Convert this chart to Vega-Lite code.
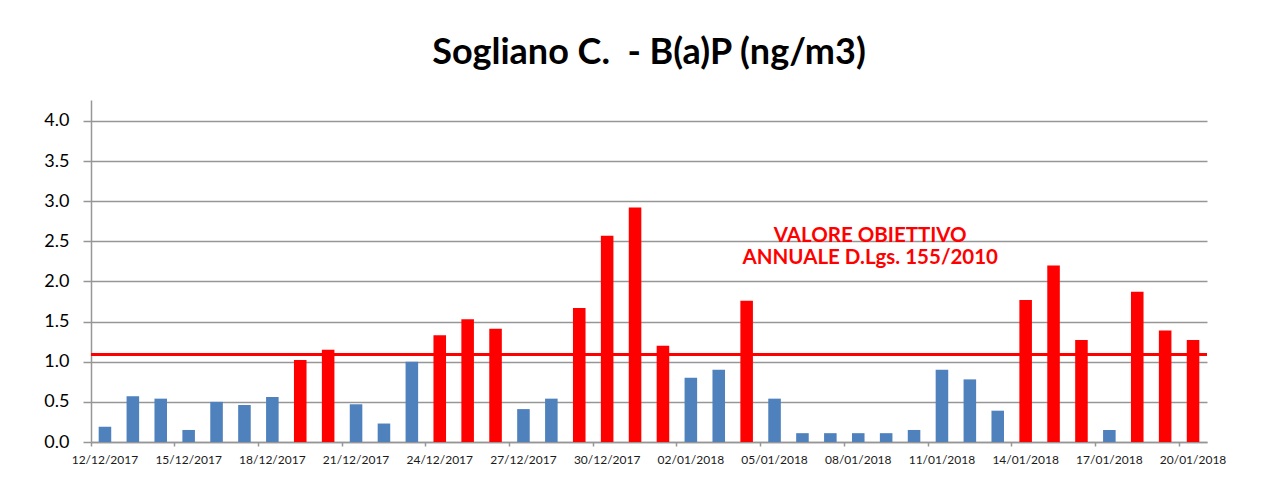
{
  "$schema": "https://vega.github.io/schema/vega-lite/v6.json",
  "width": 1116,
  "height": 342,
  "autosize": "none",
  "padding": {"left": 91, "top": 100, "right": 72, "bottom": 51},
  "background": "white",
  "title": {"text": "Sogliano C.\u00a0 - B(a)P (ng/m3)", "font": "Lato", "fontSize": 36, "fontWeight": "bold", "color": "#000000", "anchor": "middle", "offset": 28},
  "config": {"view": {"stroke": null}},
  "data": {"values": [
    {"date": "12/12/2017", "value": 0.19},
    {"date": "13/12/2017", "value": 0.57},
    {"date": "14/12/2017", "value": 0.54},
    {"date": "15/12/2017", "value": 0.15},
    {"date": "16/12/2017", "value": 0.50},
    {"date": "17/12/2017", "value": 0.46},
    {"date": "18/12/2017", "value": 0.56},
    {"date": "19/12/2017", "value": 1.02},
    {"date": "20/12/2017", "value": 1.15},
    {"date": "21/12/2017", "value": 0.47},
    {"date": "22/12/2017", "value": 0.23},
    {"date": "23/12/2017", "value": 1.00},
    {"date": "24/12/2017", "value": 1.33},
    {"date": "25/12/2017", "value": 1.53},
    {"date": "26/12/2017", "value": 1.41},
    {"date": "27/12/2017", "value": 0.41},
    {"date": "28/12/2017", "value": 0.54},
    {"date": "29/12/2017", "value": 1.67},
    {"date": "30/12/2017", "value": 2.57},
    {"date": "31/12/2017", "value": 2.92},
    {"date": "01/01/2018", "value": 1.20},
    {"date": "02/01/2018", "value": 0.80},
    {"date": "03/01/2018", "value": 0.90},
    {"date": "04/01/2018", "value": 1.76},
    {"date": "05/01/2018", "value": 0.54},
    {"date": "06/01/2018", "value": 0.11},
    {"date": "07/01/2018", "value": 0.11},
    {"date": "08/01/2018", "value": 0.11},
    {"date": "09/01/2018", "value": 0.11},
    {"date": "10/01/2018", "value": 0.15},
    {"date": "11/01/2018", "value": 0.90},
    {"date": "12/01/2018", "value": 0.78},
    {"date": "13/01/2018", "value": 0.39},
    {"date": "14/01/2018", "value": 1.77},
    {"date": "15/01/2018", "value": 2.20},
    {"date": "16/01/2018", "value": 1.27},
    {"date": "17/01/2018", "value": 0.15},
    {"date": "18/01/2018", "value": 1.87},
    {"date": "19/01/2018", "value": 1.39},
    {"date": "20/01/2018", "value": 1.27}
  ]},
  "layer": [
    {
      "mark": {"type": "bar", "width": {"band": 0.45}},
      "encoding": {
        "x": {
          "field": "date", "type": "ordinal", "sort": null,
          "scale": {"paddingInner": 0, "paddingOuter": 0},
          "axis": {
            "title": null,
            "values": ["12/12/2017", "15/12/2017", "18/12/2017", "21/12/2017", "24/12/2017", "27/12/2017", "30/12/2017", "02/01/2018", "05/01/2018", "08/01/2018", "11/01/2018", "14/01/2018", "17/01/2018", "20/01/2018"],
            "bandPosition": 0,
            "labelOffset": 0,
            "labelAngle": 0,
            "labelFont": "Lato",
            "labelFontSize": 12,
            "labelColor": "#1a1a1a",
            "labelPadding": 8,
            "domainColor": "#969696",
            "domainWidth": 1.5,
            "tickColor": "#969696",
            "tickWidth": 1.5,
            "tickSize": 4
          }
        },
        "y": {
          "field": "value", "type": "quantitative",
          "scale": {"domain": [0, 4.26], "nice": false, "zero": true},
          "axis": {
            "title": null,
            "values": [0, 0.5, 1, 1.5, 2, 2.5, 3, 3.5, 4],
            "format": ".1f",
            "labelFont": "Lato",
            "labelFontSize": 18,
            "labelColor": "#000000",
            "labelPadding": 14,
            "grid": true,
            "gridColor": "#969696",
            "gridWidth": 1.5,
            "domainColor": "#969696",
            "domainWidth": 1.5,
            "tickColor": "#969696",
            "tickWidth": 1.5,
            "tickSize": 8
          }
        },
        "color": {"condition": {"test": "datum.value > 1", "value": "#FF0000"}, "value": "#4F81BD"}
      }
    },
    {
      "mark": {"type": "rule", "color": "#FF0000", "strokeWidth": 3},
      "encoding": {"y": {"datum": 1.09}}
    },
    {
      "data": {"values": [
        {"date": "08/01/2018", "value": 2.57, "label": "VALORE OBIETTIVO"},
        {"date": "08/01/2018", "value": 2.295, "label": "ANNUALE D.Lgs. 155/2010"}
      ]},
      "mark": {"type": "text", "font": "Lato", "fontSize": 20.5, "fontWeight": "bold", "color": "#FF0000", "align": "center", "baseline": "middle", "dx": 12},
      "encoding": {
        "x": {"field": "date", "type": "ordinal", "sort": null},
        "y": {"field": "value", "type": "quantitative"},
        "text": {"field": "label"}
      }
    }
  ]
}
